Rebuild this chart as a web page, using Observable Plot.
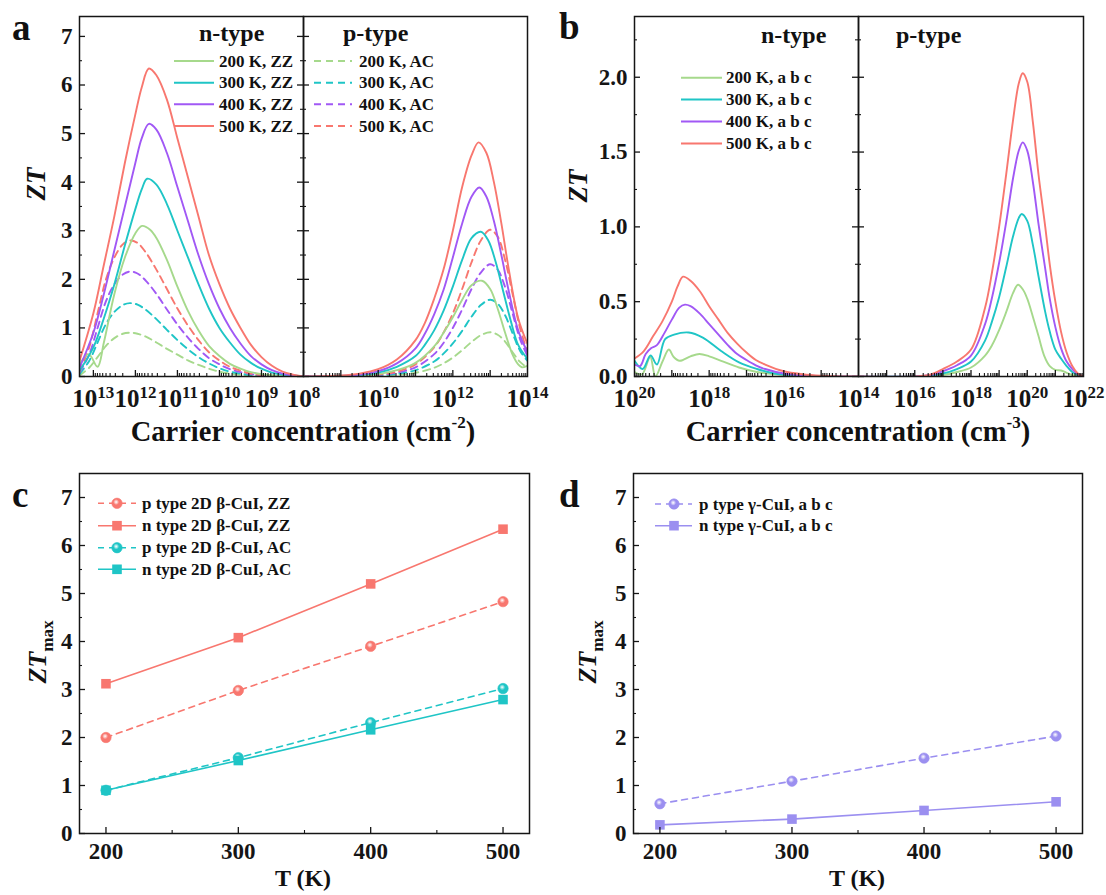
<!DOCTYPE html>
<html>
<head>
<meta charset="utf-8">
<script src="https://cdn.jsdelivr.net/npm/d3@7"></script>
<script src="https://cdn.jsdelivr.net/npm/@observablehq/plot@0.6"></script>
<style>
  html,body{margin:0;padding:0;background:#fff;}
  #root{position:relative;width:1106px;height:895px;overflow:hidden;background:#fff;
        font-family:"Liberation Serif","Times New Roman",Times,serif;font-weight:bold;color:#111;}
  .t{position:absolute;white-space:nowrap;line-height:1;}
</style>
</head>
<body>
<div id="root"></div>
<script>
// ---------------- DATA ----------------
// Panel a: [log10(carrier concentration / cm^-2), ZT]
// n-type (left half), ZZ = solid, AC = dashed
const aN_ZZ_200 = [[13.33,0.25],[13.11,0.46],[12.9,0.2],[12.75,0.7],[12.5,1.7],[12.25,2.45],[12,2.95],[11.84,3.1],[11.65,3.02],[11.5,2.85],[11.25,2.4],[11,1.85],[10.75,1.35],[10.5,0.95],[10.25,0.63],[10,0.42],[9.75,0.26],[9.5,0.16],[9.25,0.09],[9,0.05],[8.5,0.01],[8,0]];
const aN_ZZ_300 = [[13.33,0.12],[13,0.6],[12.75,1.2],[12.5,1.9],[12.25,2.7],[12,3.45],[11.85,3.85],[11.72,4.07],[11.5,3.95],[11.25,3.55],[11,3.0],[10.75,2.45],[10.5,1.9],[10.25,1.4],[10,1.0],[9.75,0.7],[9.5,0.45],[9.25,0.28],[9,0.16],[8.75,0.08],[8.5,0.04],[8,0]];
const aN_ZZ_400 = [[13.33,0.18],[13,0.9],[12.75,1.7],[12.5,2.6],[12.25,3.5],[12,4.4],[11.85,4.9],[11.68,5.2],[11.5,5.08],[11.25,4.6],[11,3.9],[10.75,3.2],[10.5,2.5],[10.25,1.9],[10,1.4],[9.75,1.0],[9.5,0.68],[9.25,0.42],[9,0.25],[8.75,0.13],[8.5,0.06],[8.25,0.02],[8,0]];
const aN_ZZ_500 = [[13.33,0.32],[13,1.3],[12.75,2.3],[12.5,3.3],[12.25,4.4],[12,5.4],[11.85,5.95],[11.68,6.34],[11.5,6.2],[11.25,5.7],[11,4.9],[10.75,4.1],[10.5,3.3],[10.25,2.5],[10,1.9],[9.75,1.4],[9.5,1.0],[9.25,0.65],[9,0.4],[8.75,0.22],[8.5,0.1],[8.25,0.04],[8,0]];
const aN_AC_200 = [[13.33,0.02],[13.1,0.18],[12.9,0.4],[12.7,0.63],[12.5,0.79],[12.3,0.88],[12.1,0.9],[11.95,0.88],[11.75,0.82],[11.5,0.7],[11.25,0.57],[11,0.45],[10.75,0.33],[10.5,0.24],[10.25,0.16],[10,0.1],[9.75,0.06],[9.5,0.035],[9.25,0.02],[9,0.01],[8,0]];
const aN_AC_300 = [[13.33,0.05],[13.1,0.32],[12.9,0.7],[12.7,1.08],[12.5,1.33],[12.3,1.47],[12.13,1.51],[11.95,1.48],[11.75,1.37],[11.5,1.18],[11.25,0.96],[11,0.75],[10.75,0.56],[10.5,0.4],[10.25,0.27],[10,0.17],[9.75,0.1],[9.5,0.06],[9.25,0.03],[9,0.015],[8,0]];
const aN_AC_400 = [[13.33,0.08],[13.1,0.45],[12.9,1.0],[12.7,1.55],[12.5,1.9],[12.3,2.1],[12.13,2.16],[11.95,2.12],[11.75,1.97],[11.5,1.7],[11.25,1.38],[11,1.07],[10.75,0.8],[10.5,0.57],[10.25,0.38],[10,0.25],[9.75,0.15],[9.5,0.09],[9.25,0.05],[9,0.02],[8.5,0.004],[8,0]];
const aN_AC_500 = [[13.33,0.1],[13.1,0.6],[12.9,1.3],[12.7,2.0],[12.5,2.45],[12.3,2.72],[12.13,2.8],[11.95,2.75],[11.75,2.55],[11.5,2.2],[11.25,1.8],[11,1.4],[10.75,1.05],[10.5,0.75],[10.25,0.5],[10,0.33],[9.75,0.2],[9.5,0.12],[9.25,0.06],[9,0.03],[8.5,0.005],[8,0]];
// p-type (right half)
const aP_ZZ_200 = [[8,0],[9,0],[9.5,0.02],[10,0.05],[10.5,0.13],[11,0.28],[11.5,0.62],[11.75,0.9],[12,1.22],[12.25,1.58],[12.5,1.88],[12.78,1.97],[13,1.8],[13.2,1.4],[13.4,0.9],[13.6,0.45],[13.75,0.25],[13.85,0.19],[14,0.22]];
const aP_ZZ_300 = [[8,0],[9,0.01],[9.5,0.03],[10,0.08],[10.5,0.2],[11,0.42],[11.25,0.65],[11.5,0.95],[11.75,1.35],[12,1.85],[12.25,2.4],[12.5,2.85],[12.75,2.98],[12.95,2.8],[13.15,2.35],[13.35,1.75],[13.55,1.15],[13.75,0.65],[14,0.36]];
const aP_ZZ_400 = [[8,0],[9,0.01],[9.5,0.04],[10,0.11],[10.5,0.27],[11,0.58],[11.25,0.88],[11.5,1.28],[11.75,1.78],[12,2.45],[12.25,3.15],[12.5,3.7],[12.71,3.89],[12.9,3.7],[13.1,3.2],[13.3,2.5],[13.5,1.75],[13.75,0.95],[14,0.5]];
const aP_ZZ_500 = [[8,0],[9,0.02],[9.5,0.06],[10,0.15],[10.5,0.35],[11,0.75],[11.25,1.1],[11.5,1.6],[11.75,2.2],[12,3.0],[12.25,3.9],[12.5,4.55],[12.69,4.82],[12.9,4.6],[13.1,4.0],[13.3,3.15],[13.5,2.2],[13.75,1.2],[14,0.67]];
const aP_AC_200 = [[8,0],[10,0.01],[10.5,0.03],[11,0.075],[11.5,0.18],[11.75,0.27],[12,0.39],[12.25,0.54],[12.5,0.71],[12.75,0.85],[13,0.91],[13.2,0.86],[13.4,0.72],[13.6,0.5],[13.8,0.3],[14,0.18]];
const aP_AC_300 = [[8,0],[9.5,0.005],[10,0.02],[10.5,0.055],[11,0.13],[11.5,0.31],[11.75,0.47],[12,0.68],[12.25,0.94],[12.5,1.23],[12.75,1.47],[13,1.58],[13.2,1.5],[13.4,1.26],[13.6,0.89],[13.8,0.53],[14,0.32]];
const aP_AC_400 = [[8,0],[9.5,0.008],[10,0.03],[10.5,0.08],[11,0.19],[11.5,0.46],[11.75,0.69],[12,1.0],[12.25,1.38],[12.5,1.8],[12.75,2.14],[13,2.31],[13.2,2.2],[13.4,1.84],[13.6,1.3],[13.8,0.77],[14,0.42]];
const aP_AC_500 = [[8,0],[9.5,0.01],[10,0.04],[10.5,0.1],[11,0.25],[11.5,0.6],[11.75,0.9],[12,1.3],[12.25,1.8],[12.5,2.35],[12.75,2.8],[13,3.02],[13.2,2.88],[13.4,2.4],[13.6,1.7],[13.8,1.0],[14,0.5]];

// Panel b: [log10(carrier concentration / cm^-3), ZT]
const bN_200 = [[20,0.03],[19.8,0.015],[19.58,0.13],[19.44,0.0],[19.25,0.1],[19.08,0.18],[18.95,0.13],[18.79,0.105],[18.5,0.135],[18.26,0.15],[18,0.135],[17.68,0.105],[17.2,0.06],[16.72,0.03],[16.24,0.015],[15.5,0.004],[14,0]];
const bN_300 = [[20,0.105],[19.78,0.05],[19.57,0.14],[19.4,0.08],[19.18,0.25],[18.94,0.28],[18.55,0.294],[18.17,0.26],[17.68,0.17],[17.2,0.094],[16.72,0.05],[16.24,0.02],[15.5,0.005],[14,0]];
const bN_400 = [[20,0.08],[19.85,0.07],[19.7,0.15],[19.55,0.19],[19.4,0.21],[19.2,0.29],[19,0.38],[18.8,0.46],[18.65,0.48],[18.5,0.47],[18.25,0.42],[18,0.35],[17.75,0.28],[17.5,0.21],[17.25,0.15],[17,0.11],[16.75,0.075],[16.5,0.05],[16,0.02],[15.5,0.008],[15,0.002],[14,0]];
const bN_500 = [[20,0.12],[19.75,0.17],[19.5,0.27],[19.25,0.37],[19,0.5],[18.85,0.6],[18.7,0.667],[18.5,0.64],[18.25,0.57],[18,0.47],[17.75,0.38],[17.5,0.29],[17.25,0.22],[17,0.16],[16.75,0.11],[16.5,0.08],[16,0.035],[15.5,0.015],[15,0.005],[14.5,0.001],[14,0]];
const bP_200 = [[14,0],[16,0],[17,0.01],[17.5,0.03],[18,0.06],[18.5,0.14],[18.75,0.21],[19,0.31],[19.25,0.43],[19.5,0.56],[19.67,0.613],[19.85,0.58],[20,0.52],[20.2,0.4],[20.4,0.27],[20.6,0.14],[20.8,0.07],[21,0.045],[21.2,0.04],[21.4,0.025],[21.6,0.01],[22,0]];
const bP_300 = [[14,0],[16,0],[16.5,0.005],[17,0.02],[17.5,0.05],[18,0.1],[18.5,0.24],[18.75,0.37],[19,0.53],[19.25,0.73],[19.5,0.94],[19.7,1.06],[19.8,1.086],[20,1.04],[20.2,0.88],[20.4,0.67],[20.64,0.43],[20.8,0.3],[21,0.18],[21.2,0.12],[21.4,0.07],[21.6,0.03],[21.8,0.01],[22,0]];
const bP_400 = [[14,0],[16,0],[16.5,0.008],[17,0.035],[17.5,0.075],[18,0.14],[18.5,0.35],[18.75,0.53],[19,0.76],[19.25,1.03],[19.5,1.33],[19.7,1.51],[19.84,1.565],[20,1.51],[20.2,1.3],[20.4,1.02],[20.64,0.72],[20.8,0.52],[21,0.33],[21.2,0.19],[21.4,0.1],[21.6,0.05],[21.8,0.015],[22,0]];
const bP_500 = [[14,0],[16,0],[16.5,0.01],[17,0.05],[17.5,0.1],[18,0.18],[18.5,0.46],[18.75,0.7],[19,1.0],[19.25,1.35],[19.5,1.72],[19.7,1.96],[19.84,2.027],[20,1.97],[20.2,1.7],[20.4,1.35],[20.64,1.0],[20.8,0.75],[21,0.5],[21.2,0.3],[21.4,0.16],[21.6,0.07],[21.8,0.02],[22,0]];

// Panels c, d: ZT_max vs temperature
const temps = [200, 300, 400, 500];
const c_pZZ = [2.0, 2.98, 3.9, 4.83];
const c_nZZ = [3.12, 4.08, 5.2, 6.34];
const c_pAC = [0.9, 1.58, 2.31, 3.02];
const c_nAC = [0.9, 1.52, 2.16, 2.79];
const d_p = [0.62, 1.09, 1.57, 2.03];
const d_n = [0.18, 0.30, 0.48, 0.66];

// Tick labels (decade exponents / temperatures)
const aLeftTicks = [13, 12, 11, 10, 9, 8];
const aRightTicks = [10, 12, 14];
const bLeftTicks = [20, 18, 16, 14];
const bRightTicks = [16, 18, 20, 22];
const tempTicks = [200, 300, 400, 500];

// ---------------- STYLE ----------------
const COL = {g: "#a6d98c", c: "#1fc5c6", p: "#a158f5", r: "#f8776f", v: "#9b8ff0"};
const tcol = {200: COL.g, 300: COL.c, 400: COL.p, 500: COL.r};
const FONT = '"Liberation Serif","Times New Roman",Times,serif';
const INK = "#151515";
const TXT = {fontSize: 23, fontWeight: "bold", fill: INK};
const TXTX = {fontSize: 25, fontWeight: "bold", fill: INK};
const NS = "http://www.w3.org/2000/svg";
const root = document.getElementById("root");

const pow = v => "10^" + Math.round(Math.log10(v));
const dec = es => es.map(e => 10 ** e);
const minorsLog = (a, b) => d3.range(a, b).flatMap(e => d3.range(2, 10).map(k => k * 10 ** e));
const pts = (arr, name) => arr.map(([e, z]) => ({n: 10 ** e, zt: z, s: name}));

function supLabels(svg) {
  svg.querySelectorAll("text").forEach(t => {
    const m = /^10\^(-?\d+)$/.exec(t.textContent);
    if (m) {
      t.textContent = "10";
      const ts = document.createElementNS(NS, "tspan");
      ts.setAttribute("dy", "-9.5");
      ts.style.fontSize = "17px";
      ts.textContent = m[1];
      t.appendChild(ts);
    }
  });
}
function place(svg, left, top) {
  supLabels(svg);
  svg.style.position = "absolute";
  svg.style.left = left + "px";
  svg.style.top = top + "px";
  svg.style.overflow = "visible";
  svg.style.background = "transparent";
  root.appendChild(svg);
}

function xAxesLog(labelExp, majorExp, minorVals) {
  return [
    Plot.axisX(dec(labelExp), {tickSize: 0, tickPadding: 13, tickFormat: pow, label: null, ...TXTX}),
    Plot.axisX(dec(majorExp), {tickSize: -6, fill: "none", label: null, stroke: INK, strokeWidth: 1.3}),
    Plot.axisX(minorVals, {tickSize: -3, fill: "none", label: null, stroke: INK, strokeWidth: 1.1})
  ];
}
function yLeftAxes(labels, majors, minors, fmt) {
  return [
    Plot.axisY(labels, {tickSize: 0, tickPadding: 7, tickFormat: fmt, label: null, ...TXT}),
    Plot.axisY(majors, {tickSize: -6, fill: "none", label: null, stroke: INK, strokeWidth: 1.3}),
    Plot.axisY(minors, {tickSize: -3, fill: "none", label: null, stroke: INK, strokeWidth: 1.1})
  ];
}
function yDivider(majors, minors) {
  return [
    Plot.axisY(majors, {tickSize: -6, fill: "none", label: null, stroke: INK, strokeWidth: 1.3}),
    Plot.axisY(majors, {tickSize: 6, fill: "none", label: null, stroke: INK, strokeWidth: 1.3}),
    Plot.axisY(minors, {tickSize: -3, fill: "none", label: null, stroke: INK, strokeWidth: 1.1}),
    Plot.axisY(minors, {tickSize: 3, fill: "none", label: null, stroke: INK, strokeWidth: 1.1})
  ];
}
function curves(list) {
  return list.map(([arr, t, dashed]) => Plot.line(pts(arr, t), {
    x: "n", y: "zt", stroke: tcol[t], strokeWidth: 1.9, curve: "catmull-rom",
    strokeDasharray: dashed ? "7,5" : null, clip: true
  }));
}
const frame = () => Plot.frame({stroke: INK, strokeWidth: 1.5});

// ---------------- PANEL a ----------------
const aY = {domain: [0, 7.41], label: null};
const aYmaj = d3.range(0, 8), aYmin = d3.range(0.5, 7.5, 1);
place(Plot.plot({
  width: 303, height: 440, marginLeft: 79, marginRight: 0, marginTop: 16, marginBottom: 64,
  style: {fontFamily: FONT},
  x: {type: "log", domain: [1e8, 10 ** 13.33], reverse: true, label: null},
  y: aY,
  marks: [
    ...curves([[aN_AC_200,200,1],[aN_AC_300,300,1],[aN_AC_400,400,1],[aN_AC_500,500,1],
               [aN_ZZ_200,200,0],[aN_ZZ_300,300,0],[aN_ZZ_400,400,0],[aN_ZZ_500,500,0]]),
    ...xAxesLog(aLeftTicks, [13,12,11,10,9,8], minorsLog(8, 13).filter(v => v < 10 ** 13.33)),
    ...yLeftAxes(aYmaj, aYmaj, aYmin, d => d),
    frame()
  ]
}), 0, 0);
place(Plot.plot({
  width: 237, height: 440, marginLeft: 0, marginRight: 13, marginTop: 16, marginBottom: 64,
  style: {fontFamily: FONT},
  x: {type: "log", domain: [1e8, 1e14], label: null},
  y: aY,
  marks: [
    ...curves([[aP_AC_200,200,1],[aP_AC_300,300,1],[aP_AC_400,400,1],[aP_AC_500,500,1],
               [aP_ZZ_200,200,0],[aP_ZZ_300,300,0],[aP_ZZ_400,400,0],[aP_ZZ_500,500,0]]),
    ...xAxesLog(aRightTicks, [9,10,11,12,13], minorsLog(8, 14)),
    ...yDivider(aYmaj, aYmin),
    frame()
  ]
}), 303, 0);

// ---------------- PANEL b ----------------
const bY = {domain: [0, 2.406], label: null};
const bYmaj = [0, 0.5, 1, 1.5, 2], bYmin = [0.25, 0.75, 1.25, 1.75, 2.25];
place(Plot.plot({
  width: 318, height: 440, marginLeft: 94, marginRight: 0, marginTop: 16, marginBottom: 64,
  style: {fontFamily: FONT},
  x: {type: "log", domain: [1e14, 1e20], reverse: true, label: null},
  y: bY,
  marks: [
    ...curves([[bN_200,200,0],[bN_300,300,0],[bN_400,400,0],[bN_500,500,0]]),
    ...xAxesLog(bLeftTicks, [19,18,17,16,15], minorsLog(14, 20)),
    ...yLeftAxes(bYmaj, bYmaj, bYmin, d => d.toFixed(1)),
    frame()
  ]
}), 540, 0);
place(Plot.plot({
  width: 248, height: 440, marginLeft: 0, marginRight: 23, marginTop: 16, marginBottom: 64,
  style: {fontFamily: FONT},
  x: {type: "log", domain: [1e14, 1e22], label: null},
  y: bY,
  marks: [
    ...curves([[bP_200,200,0],[bP_300,300,0],[bP_400,400,0],[bP_500,500,0]]),
    ...xAxesLog(bRightTicks, [15,16,17,18,19,20,21], minorsLog(14, 22)),
    ...yDivider(bYmaj, bYmin),
    frame()
  ]
}), 858, 0);

// ---------------- PANELS c, d ----------------
function gradMark(id, color) {
  return () => {
    const d = document.createElementNS(NS, "defs");
    d.innerHTML = `<radialGradient id="${id}" cx="0.42" cy="0.38" r="0.62"><stop offset="0" stop-color="#ffffff" stop-opacity="0.85"/><stop offset="0.45" stop-color="${color}"/><stop offset="1" stop-color="${color}"/></radialGradient>`;
    return d;
  };
}
const series = (vals) => temps.map((t, i) => ({t, v: vals[i]}));
const tY = {domain: [0, 7.5], label: null};
const tYmaj = d3.range(0, 8), tYmin = d3.range(0.5, 7.5, 1);
function tempAxes() {
  return [
    Plot.axisX(tempTicks, {tickSize: 0, tickPadding: 9, label: null, ...TXT}),
    Plot.axisX(tempTicks, {tickSize: -6, fill: "none", label: null, stroke: INK, strokeWidth: 1.3}),
    Plot.axisX([250, 350, 450], {tickSize: -3, fill: "none", label: null, stroke: INK, strokeWidth: 1.1}),
    ...yLeftAxes(tYmaj, tYmaj, tYmin, d => d)
  ];
}
function lineDots(vals, color, dashed, sym, grad) {
  return [
    Plot.line(series(vals), {x: "t", y: "v", stroke: color, strokeWidth: 1.6, strokeDasharray: dashed ? "6,5" : null}),
    Plot.dot(series(vals), {x: "t", y: "v", symbol: sym, r: sym === "square" ? 5.4 : 5.2,
      fill: grad ? `url(#${grad})` : color, stroke: grad ? color : null, strokeWidth: 0.6})
  ];
}
place(Plot.plot({
  width: 540, height: 435, marginLeft: 79, marginRight: 11, marginTop: 13, marginBottom: 62,
  style: {fontFamily: FONT},
  x: {domain: [180, 520], label: null},
  y: tY,
  marks: [
    gradMark("gradR", COL.r), gradMark("gradC", COL.c),
    ...lineDots(c_pZZ, COL.r, true, "circle", "gradR"),
    ...lineDots(c_nZZ, COL.r, false, "square", null),
    ...lineDots(c_pAC, COL.c, true, "circle", "gradC"),
    ...lineDots(c_nAC, COL.c, false, "square", null),
    ...tempAxes(),
    frame()
  ]
}), 0, 460);
place(Plot.plot({
  width: 566, height: 435, marginLeft: 93, marginRight: 24, marginTop: 13, marginBottom: 62,
  style: {fontFamily: FONT},
  x: {domain: [180, 520], label: null},
  y: tY,
  marks: [
    gradMark("gradV", COL.v),
    ...lineDots(d_p, COL.v, true, "circle", "gradV"),
    ...lineDots(d_n, COL.v, false, "square", null),
    ...tempAxes(),
    frame()
  ]
}), 540, 460);

// ---------------- TEXT + LEGENDS ----------------
function text(html, x, y, size, opt = {}) {
  const el = document.createElement("div");
  el.className = "t";
  el.innerHTML = html;
  el.style.fontSize = size + "px";
  if (opt.italic) el.style.fontStyle = "italic";
  el.style.left = x + "px";
  if (opt.rotate) {
    el.style.top = y + "px";
    el.style.transform = "translate(-50%,-50%) rotate(-90deg)";
  } else {
    el.style.top = (y - 0.84 * size) + "px";
    if (opt.middle) el.style.transform = "translateX(-50%)";
  }
  root.appendChild(el);
}
// panel letters
text("a", 12, 40, 37); text("b", 559, 39, 37); text("c", 12, 507, 37); text("d", 559, 507, 37);
// axis titles
const supS = "style='font-size:0.6em;vertical-align:0.75em;line-height:0'";
text(`Carrier concentration (cm<sup ${supS}>-2</sup>)`, 303, 442, 28.5, {middle: true});
text(`Carrier concentration (cm<sup ${supS}>-3</sup>)`, 858, 442, 28.5, {middle: true});
text("T (K)", 303, 886, 24, {middle: true});
text("T (K)", 857, 886, 24, {middle: true});
text("<i>ZT</i>", 36, 184, 27, {rotate: true});
text("<i>ZT</i>", 578, 186, 27, {rotate: true});
const ztmax = "<i>ZT</i><span style='font-size:0.66em;vertical-align:-0.4em;line-height:0'>max</span>";
text(ztmax, 38, 652, 26, {rotate: true});
text(ztmax, 588, 652, 26, {rotate: true});
// legend titles
text("n-type", 199, 41, 24); text("p-type", 343, 41, 24);
text("n-type", 761, 43, 24); text("p-type", 896, 43, 24);

const ov = document.createElementNS(NS, "svg");
ov.setAttribute("width", 1106); ov.setAttribute("height", 895);
ov.style.cssText = "position:absolute;left:0;top:0;overflow:visible;pointer-events:none";
root.appendChild(ov);
function sline(x1, x2, y, color, dash, w = 1.9) {
  const l = document.createElementNS(NS, "line");
  l.setAttribute("x1", x1); l.setAttribute("x2", x2); l.setAttribute("y1", y); l.setAttribute("y2", y);
  l.setAttribute("stroke", color); l.setAttribute("stroke-width", w);
  if (dash) l.setAttribute("stroke-dasharray", dash);
  ov.appendChild(l);
}
function smark(x, y, color, sym, grad) {
  let m;
  if (sym === "circle") {
    m = document.createElementNS(NS, "circle");
    m.setAttribute("cx", x); m.setAttribute("cy", y); m.setAttribute("r", 5.2);
    m.setAttribute("fill", `url(#${grad})`); m.setAttribute("stroke", color); m.setAttribute("stroke-width", 0.6);
  } else {
    m = document.createElementNS(NS, "rect");
    m.setAttribute("x", x - 4.8); m.setAttribute("y", y - 4.8); m.setAttribute("width", 9.6); m.setAttribute("height", 9.6);
    m.setAttribute("fill", color);
  }
  ov.appendChild(m);
}
const aRows = [61, 82.7, 104.3, 126];
temps.forEach((t, i) => {
  sline(174, 214, aRows[i], tcol[t], null);
  text(`${t} K, ZZ`, 219, aRows[i] + 6, 17);
  sline(314, 352, aRows[i], tcol[t], "7,5");
  text(`${t} K, AC`, 359, aRows[i] + 6, 17);
});
const bRows = [77.7, 99.5, 121.5, 143.5];
temps.forEach((t, i) => {
  sline(681, 722, bRows[i], tcol[t], null);
  text(`${t} K, a b c`, 726, bRows[i] + 6, 17);
});
const cRows = [503.3, 525.7, 547.7, 569.3];
const cLeg = [
  ["p type 2D β-CuI, ZZ", COL.r, "6,5", "circle", "gradR"],
  ["n type 2D β-CuI, ZZ", COL.r, null, "square", null],
  ["p type 2D β-CuI, AC", COL.c, "6,5", "circle", "gradC"],
  ["n type 2D β-CuI, AC", COL.c, null, "square", null]
];
cLeg.forEach(([s, col, dash, sym, g], i) => {
  sline(98, 136, cRows[i], col, dash, 1.6);
  smark(117, cRows[i], col, sym, g);
  text(s, 142, cRows[i] + 6, 17);
});
const dRows = [504, 525.7];
const dLeg = [
  ["p type γ-CuI, a b c", COL.v, "6,5", "circle", "gradV"],
  ["n type γ-CuI, a b c", COL.v, null, "square", null]
];
dLeg.forEach(([s, col, dash, sym, g], i) => {
  sline(655, 692, dRows[i], col, dash, 1.6);
  smark(674, dRows[i], col, sym, g);
  text(s, 699, dRows[i] + 6, 17);
});
</script>
</body>
</html>
